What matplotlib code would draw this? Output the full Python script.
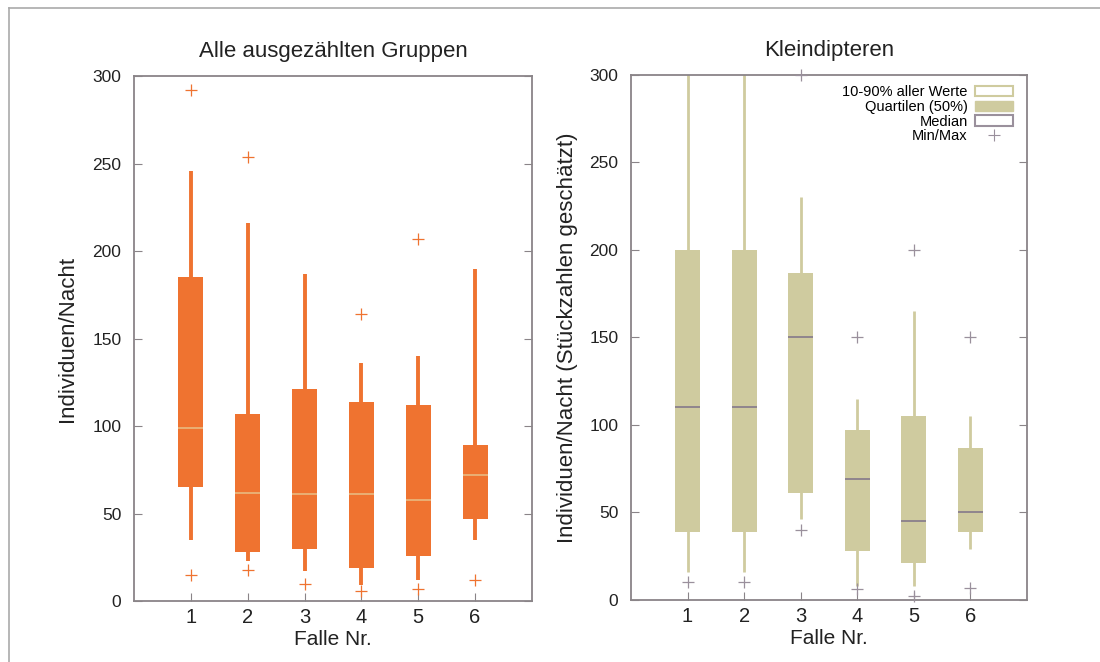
import numpy as np
import matplotlib
matplotlib.use('Agg')
import matplotlib.pyplot as plt
from matplotlib.patches import Patch
from matplotlib.lines import Line2D

plt.rcParams['font.family'] = ['Liberation Sans', 'DejaVu Sans']

# Fallen 1..6
fallen = [1, 2, 3, 4, 5, 6]

# Alle ausgezaehlten Gruppen
alle_q1 = [65, 28, 30, 19, 26, 47]
alle_med = [99, 62, 61, 61, 58, 72]
alle_q3 = [185, 107, 121, 114, 112, 89]
alle_p10 = [35, 23, 17, 9, 12, 35]
alle_p90 = [246, 216, 187, 136, 140, 190]
alle_min = [15, 18, 10, 6, 7, 12]
alle_max = [292, 254, np.nan, 164, 207, np.nan]

# Kleindipteren
klein_q1 = [39, 39, 61, 28, 21, 39]
klein_med = [110, 110, 150, 69, 45, 50]
klein_q3 = [200, 200, 187, 97, 105, 87]
klein_p10 = [16, 16, 46, 8, 8, 29]
klein_p90 = [320, 320, 230, 115, 165, 105]
klein_min = [10, 10, 40, 6, 2, 7]
klein_max = [np.nan, np.nan, 300, 150, 200, 150]

orange = '#ef7330'
orange_med = '#e9b47a'
khaki = '#cfcb9f'
grau_med = '#8a7f8c'
grau_plus = '#9a909c'
spine_col = '#8a8488'

fig = plt.figure(figsize=(11, 6.62), dpi=100)

# Rahmen oben/links wie im Original
fig.add_artist(Line2D([0.008, 0.008], [0, 0.988], color='#aaaaaa', lw=1.2))
fig.add_artist(Line2D([0.008, 1], [0.988, 0.988], color='#aaaaaa', lw=1.2))

ax1 = fig.add_axes([0.1218, 0.0921, 0.3618, 0.793])
ax2 = fig.add_axes([0.5736, 0.0937, 0.360, 0.793])

def boxes(ax, q1, med, q3, p10, p90, mn, mx, fill, medc, plusc, lw_wh):
    x = np.array(fallen)
    ax.vlines(x, p10, p90, colors=fill, lw=lw_wh, zorder=2)
    ax.bar(x, np.array(q3) - np.array(q1), bottom=q1, width=0.44,
           color=fill, zorder=3)
    ax.hlines(med, x - 0.22, x + 0.22, colors=medc, lw=1.3, zorder=4)
    ax.scatter(x, mn, marker='+', s=75, c=plusc, linewidths=0.9, zorder=4, clip_on=False)
    ax.scatter(x, mx, marker='+', s=75, c=plusc, linewidths=0.9, zorder=4, clip_on=False)

boxes(ax1, alle_q1, alle_med, alle_q3, alle_p10, alle_p90, alle_min, alle_max,
      orange, orange_med, orange, 2.8)
boxes(ax2, klein_q1, klein_med, klein_q3, klein_p10, klein_p90, klein_min, klein_max,
      khaki, grau_med, grau_plus, 2.0)

for ax in (ax1, ax2):
    ax.set_xlim(0, 7)
    ax.set_ylim(0, 300)
    ax.set_xticks(fallen)
    ax.set_yticks([0, 50, 100, 150, 200, 250, 300])
    ax.tick_params(axis='y', direction='in', right=True, length=6, color=spine_col,
                   labelsize=12.5, labelcolor='#222222', pad=9)
    ax.tick_params(axis='x', direction='in', length=6, color=spine_col,
                   labelsize=14.5, labelcolor='#222222', pad=5)
    for s in ax.spines.values():
        s.set_color(spine_col)
        s.set_linewidth(1.3)
    ax.set_xlabel('Falle Nr.', fontsize=15, color='#222222', labelpad=2)

ax1.set_title('Alle ausgezählten Gruppen', fontsize=16, color='#222222', pad=14)
ax2.set_title('Kleindipteren', fontsize=16, color='#222222', pad=14)
ax1.set_ylabel('Individuen/Nacht', fontsize=16, color='#222222', labelpad=10)
ax2.set_ylabel('Individuen/Nacht (Stückzahlen geschätzt)', fontsize=16,
               color='#222222', labelpad=8)

handles = [
    Patch(facecolor='white', edgecolor=khaki, linewidth=1.5),
    Patch(facecolor=khaki, edgecolor=khaki),
    Patch(facecolor='white', edgecolor=grau_plus, linewidth=1.5),
    Line2D([], [], marker='+', color=grau_plus, linestyle='none', markersize=9,
           markeredgewidth=0.8),
]
labels = ['10-90% aller Werte', 'Quartilen (50%)', 'Median', 'Min/Max']
ax2.legend(handles, labels, loc='upper right', frameon=False, markerfirst=False,
           fontsize=10.5, handlelength=2.6, handleheight=0.7, labelspacing=0.05,
           borderaxespad=0.3, handletextpad=0.5, bbox_to_anchor=(0.99, 1.0))

fig.savefig('out.png', dpi=100)
